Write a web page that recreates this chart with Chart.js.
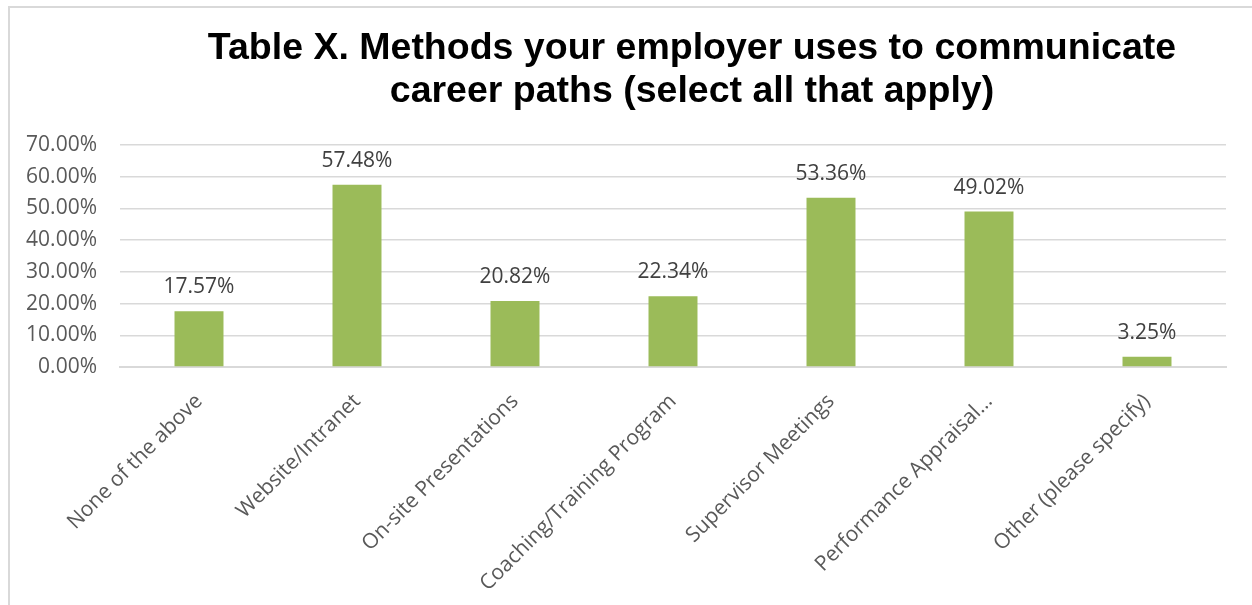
<!DOCTYPE html>
<html>
<head>
<meta charset="utf-8">
<title>Career paths</title>
<script src="https://cdn.jsdelivr.net/npm/chart.js@4/dist/chart.umd.min.js"></script>
<style>
    html, body { margin: 0; padding: 0; background: #fff; overflow: hidden; }
    #wrap { position: relative; width: 1252px; height: 605px; }
    #frame {
        position: absolute; left: 8px; top: 6px; right: -10px; bottom: -10px;
        border-left: 2px solid #d9d9d9; border-top: 2px solid #d9d9d9;
    }
    #title {
        position: absolute; left: 0; top: 25px; width: 1384px;
        text-align: center; color: #000;
        font: bold 37.5px "Liberation Sans", Arial, sans-serif; line-height: 43px;
    }
    #careerChart { position: absolute; left: 0; top: 0; }
</style>
</head>
<body>
<div id="wrap">
    <div id="frame"></div>
    <canvas id="careerChart" width="1252" height="605"></canvas>
    <div id="title">Table X. Methods your employer uses to communicate<br>career paths (select all that apply)</div>
</div>
<script>
const methods = [
    'None of the above',
    'Website/Intranet',
    'On-site Presentations',
    'Coaching/Training Program',
    'Supervisor Meetings',
    'Performance Appraisal\u2026',
    'Other (please specify)'
];
const percentages = [17.57, 57.48, 20.82, 22.34, 53.36, 49.02, 3.25];
const yTicks = [0, 10, 20, 30, 40, 50, 60, 70];

// value labels above each bar
const barLabels = {
    id: 'barLabels',
    afterDatasetsDraw(chart) {
        const ctx = chart.ctx;
        const meta = chart.getDatasetMeta(0);
        ctx.save();
        ctx.font = '21px "Open Sans"';
        ctx.fillStyle = '#404040';
        ctx.textAlign = 'center';
        ctx.textBaseline = 'alphabetic';
        meta.data.forEach((bar, i) => {
            ctx.fillText(percentages[i].toFixed(2) + '%', bar.x, bar.y - 18);
        });
        ctx.restore();
    }
};

function draw() {
    const ctx = document.getElementById('careerChart').getContext('2d');
    new Chart(ctx, {
        type: 'bar',
        data: {
            labels: methods,
            datasets: [{
                data: percentages,
                backgroundColor: '#9bbb59',
                borderWidth: 0,
                barPercentage: 0.31,
                categoryPercentage: 1
            }]
        },
        options: {
            responsive: false,
            animation: false,
            layout: { padding: { top: 145, left: 0, right: 26, bottom: 0 } },
            plugins: {
                legend: { display: false },
                tooltip: { enabled: false }
            },
            scales: {
                x: {
                    grid: { display: false },
                    border: { color: '#d9d9d9', width: 2 },
                    ticks: {
                        color: '#595959',
                        font: { family: 'Open Sans', size: 21 },
                        minRotation: 45,
                        maxRotation: 45,
                        autoSkip: false,
                        padding: 14
                    },
                    afterFit: (scale) => { scale.height = 238; }
                },
                y: {
                    min: 0,
                    max: 70,
                    grid: { color: '#d9d9d9', lineWidth: 1.5, drawTicks: false },
                    border: { display: false },
                    afterBuildTicks: (scale) => {
                        scale.ticks = yTicks.map(v => ({ value: v }));
                    },
                    ticks: {
                        color: '#595959',
                        font: { family: 'Open Sans', size: 21 },
                        padding: 23,
                        callback: (v) => v.toFixed(2) + '%'
                    },
                    afterFit: (scale) => { scale.width = 120; }
                }
            }
        },
        plugins: [barLabels]
    });
}

document.fonts.load('21px "Open Sans"').then(draw, draw);
</script>
</body>
</html>
